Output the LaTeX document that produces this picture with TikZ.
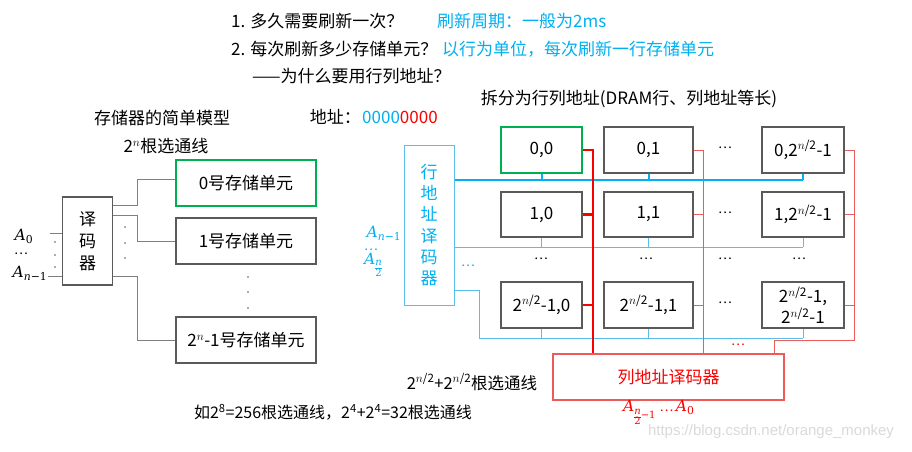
\documentclass[tikz,border=0pt]{standalone}
\usepackage{fontspec}
\setmainfont{Noto Sans CJK SC}
\newfontfamily\wmfont{Liberation Sans}
\newfontfamily\mif{DejaVu Serif}
\definecolor{cy}{RGB}{0,176,240}
\definecolor{lcy}{RGB}{90,190,235}
\definecolor{gr}{RGB}{0,176,80}
\definecolor{rd}{RGB}{250,0,0}
\definecolor{lrd}{RGB}{238,90,90}
\definecolor{bx}{RGB}{90,90,90}
\definecolor{wr}{RGB}{128,128,128}
\newcommand\fsz[2]{\fontsize{#1}{#2}\selectfont}
\newcommand\hp[1]{2\textsuperscript{$n$/2}#1}
\newcommand\iA{{\mif\itshape A}}
\newcommand\iN{{\mif\itshape n}}
\newcommand\frsub[3]{\raisebox{#3}{\fsz{10}{10}\setlength\tabcolsep{0pt}\renewcommand\arraystretch{0.9}\begin{tabular}{c}#1\\\hline #2\end{tabular}}}
\newcommand\dd{…}
\tikzset{
  box/.style={draw=bx, line width=1.1pt, inner sep=0pt, font=\fsz{17}{21}},
  greenbox/.style={draw=gr, line width=2.6pt},
  wire/.style={draw=wr, line width=1pt},
  cywire/.style={draw=lcy, line width=1pt},
  cythick/.style={draw=cy, line width=2.8pt},
  rdwire/.style={draw=lrd, line width=1pt},
  rdthick/.style={draw=rd, line width=2.8pt},
  txt/.style={inner sep=0pt, font=\fsz{17}{21}},
  mathlbl/.style={inner sep=0pt, font=\fsz{15.5}{17}},
  dotsnode/.style={inner sep=0pt, font=\fsz{13}{14}},
}
\begin{document}
\begin{tikzpicture}[x=1pt,y=-1pt]
\useasboundingbox (0,0) rectangle (912,451);

% top questions
\node[txt, anchor=west] (q1) at (231,21) {1. 多久需要刷新一次？};
\node[txt, anchor=west, text=cy] (a1) at (437,21) {刷新周期：一般为2ms};
\node[txt, anchor=west] (q2) at (231,49) {2. 每次刷新多少存储单元？};
\node[txt, anchor=west, text=cy] (a2) at (442,49) {以行为单位，每次刷新一行存储单元};
\node[txt, anchor=west] (q3) at (252,76) {——为什么要用行列地址？};

% left model
\node[txt] (t1) at (162,118) {存储器的简单模型};
\node[txt] (t2) at (166,146) {2\textsuperscript{$n$}根选通线};
\node[box, minimum width=50pt, minimum height=88pt, align=center, font=\fsz{17}{22}] (dec) at (87.5,241) {译\\码\\器};
\node[box, greenbox, minimum width=140pt, minimum height=46pt] (m0) at (246,183) {0号存储单元};
\node[box, minimum width=140pt, minimum height=46pt] (m1) at (246,241) {1号存储单元};
\node[box, minimum width=140pt, minimum height=46pt] (m2) at (246,340) {2\textsuperscript{$n$}-1号存储单元};
\draw[wire] (dec.east |- 0,205) -| (137,179) -- (m0.west |- 0,179);
\draw[wire] (dec.east |- 0,215) -| (137,241) -- (m1.west);
\draw[wire] (dec.east |- 0,276) -| (137,340) -- (m2.west);
\node[mathlbl] (a0) at (24,236) {\iA\textsubscript{\mif 0}};
\node[dotsnode] (ad) at (21,254) {\dd};
\node[mathlbl] (an) at (30,273) {\iA\textsubscript{\iN{\mif −1}}};
\coordinate (a0e) at (50,233);
\coordinate (ane) at (48,276);
\draw[wire] (a0e) -- (dec.west |- a0e);
\draw[wire] (ane) -- (dec.west |- ane);
\foreach \y in {242,255,267} \fill[bx] (55,\y) circle (0.9pt);
\foreach \y in {227,243,258} \fill[bx] (125,\y) circle (0.9pt);
\foreach \y in {277,292,308} \fill[bx] (248,\y) circle (0.9pt);

% address
\node[txt, anchor=east] (addr) at (361,117) {地址：};
\node[txt, anchor=west] (bits) at (362,117) {\textcolor{cy}{0000}\textcolor{rd}{0000}};
\node[txt] (t3) at (629,99) {拆分为行列地址(DRAM行、列地址等长)};

% row decoder
\node[draw=lcy, line width=1pt, minimum width=50pt, minimum height=160pt, inner sep=0pt,
      align=center, text=cy, font=\fsz{17}{21.3}] (rdec) at (429,225) {行\\地\\址\\译\\码\\器};
\node[mathlbl, text=cy] (ra1) at (384,233) {\iA\textsubscript{\iN{\mif −1}}};
\node[dotsnode, text=cy] (ra2) at (371,250) {\dd};
\node[mathlbl, text=cy, anchor=west] (ra3) at (364,266) {\iA\frsub{\iN}{\mif 2}{-7pt}};

% cells
\node[box, greenbox, minimum width=81pt, minimum height=46pt] (c00) at (541.5,150) {0,0};
\node[box, minimum width=89pt, minimum height=46pt] (c01) at (648.5,150) {0,1};
\node[box, minimum width=82pt, minimum height=46pt] (c04) at (803,150) {0,\hp{-1}};
\node[box, minimum width=81pt, minimum height=45pt] (c10) at (541.5,214.5) {1,0};
\node[box, minimum width=89pt, minimum height=45pt] (c11) at (648.5,214.5) {1,1};
\node[box, minimum width=82pt, minimum height=45pt] (c14) at (803,214.5) {1,\hp{-1}};
\node[box, minimum width=81pt, minimum height=46pt] (c20) at (541.5,305) {\hp{-1,0}};
\node[box, minimum width=89pt, minimum height=46pt] (c21) at (648.5,305) {\hp{-1,1}};
\node[box, minimum width=82pt, minimum height=46pt, align=center, font=\fsz{17}{21}] (c24) at (803,305) {\hp{-1,}\\\hp{-1}};

\foreach \y/\n in {148/d1,213/d2,303/d3} \node[dotsnode] (\n) at (725,\y) {\dd};
\foreach \x/\n in {541/e1,646/e2,725/e3,799/e4} \node[dotsnode] (\n) at (\x,259) {\dd};
\node[dotsnode, text=cy] (e0) at (468,266) {\dd};
\node[dotsnode, text=rd] (e5) at (738,345) {\dd};

% column decoder
\node[draw=lrd, line width=1.1pt, minimum width=231pt, minimum height=46pt, inner sep=0pt,
      text=rd, font=\fsz{17}{21}] (cdec) at (668.5,377) {列地址译码器};

% row select lines
\draw[cythick] (rdec.east |- 0,180) -- (c04.south |- 0,180);
\foreach \c in {c00,c01,c04} \draw[cy, line width=2pt] (\c.south) -- (\c.south |- 0,180);
\draw[cywire] (rdec.east |- 0,247) -- (c14.south |- 0,247);
\foreach \c in {c10,c11,c14} \draw[cywire] (\c.south) -- (\c.south |- 0,247);
\draw[cywire] (rdec.east |- 0,290) -| (479,338) -- (c24.south |- 0,338);
\foreach \c in {c20,c21,c24} \draw[cywire] (\c.south) -- (\c.south |- 0,338);

% column select lines
\draw[rdthick] (c00.east) -- (c00.east -| 593,0) -- (593,0 |- cdec.north);
\foreach \c in {c10,c20} \draw[rdthick] (\c.east) -- (\c.east -| 593,0);
\draw[rdwire] (c01.east) -- (c01.east -| 703,0) -- (703,0 |- cdec.north);
\foreach \c in {c11,c21} \draw[rdwire] (\c.east) -- (\c.east -| 703,0);
\draw[rdwire] (c04.east) -- (c04.east -| 854,0) -- (854,340) -- (774,340) -- (774,0 |- cdec.north);
\foreach \c in {c14,c24} \draw[rdwire] (\c.east) -- (\c.east -| 854,0);

% bottom labels
\node[txt, font=\fsz{16.5}{20}] (t4) at (472,382) {2\textsuperscript{$n$/2}+2\textsuperscript{$n$/2}根选通线};
\node[txt, font=\fsz{16}{20}] (t5) at (333,412) {如2\textsuperscript{8}=256根选通线，2\textsuperscript{4}+2\textsuperscript{4}=32根选通线};
\node[mathlbl, text=rd, anchor=west] (ca) at (623,414) {\iA\frsub{\iN}{\mif 2}{-8.5pt}\raisebox{-7pt}{\fsz{10}{10}\mif −1}\hspace{4pt}{\fsz{13}{14}\dd}\,\iA\textsubscript{\mif 0}};
\node[inner sep=0pt, text=gray!30, font=\wmfont\fsz{15}{18}] (wm) at (771,432) {https://blog.csdn.net/orange\_monkey};
\end{tikzpicture}
\end{document}
